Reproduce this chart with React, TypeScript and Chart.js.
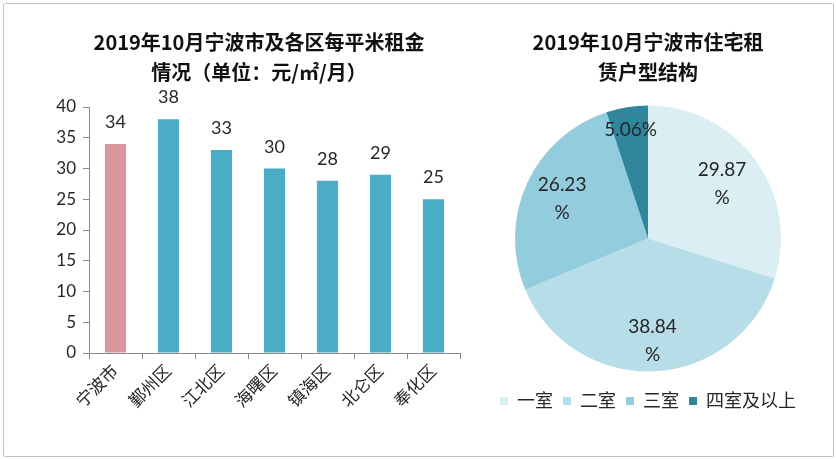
import React, { useEffect, useRef } from "react";
import { Chart, registerables } from "chart.js";

Chart.register(...registerables);

const barCategories = ["宁波市", "鄞州区", "江北区", "海曙区", "镇海区", "北仑区", "奉化区"];
const barValues = [34, 38, 33, 30, 28, 29, 25];
const barColors = ["#d9969b", "#4bacc6", "#4bacc6", "#4bacc6", "#4bacc6", "#4bacc6", "#4bacc6"];
const barTitle = ["2019年10月宁波市及各区每平米租金", "情况（单位：元/㎡/月）"];

const pieCategories = ["一室", "二室", "三室", "四室及以上"];
const pieValues = [29.87, 38.84, 26.23, 5.06];
const pieColors = ["#daeef3", "#b7dee8", "#93cddd", "#31859c"];
const pieTitle = ["2019年10月宁波市住宅租", "赁户型结构"];

const FONT = "Lato, 'Noto Sans CJK SC', sans-serif";
const TITLE_FONT = "'Noto Sans CJK SC', 'Noto Sans', sans-serif";
const TEXT = "#262626";
const AXIS = "#8a8a8a";

const barLabelPlugin = {
  id: "barLabels",
  afterDatasetsDraw(chart: any) {
    const ctx = chart.ctx;
    const meta = chart.getDatasetMeta(0);
    ctx.save();
    ctx.font = `18px ${FONT}`;
    ctx.fillStyle = TEXT;
    ctx.textAlign = "center";
    ctx.textBaseline = "alphabetic";
    meta.data.forEach((bar: any, i: number) => {
      ctx.fillText(String(barValues[i]), bar.x, bar.y - 16);
    });
    ctx.restore();
  },
};

const pieLabelFactors = [0.69, 0.77, 0.71, 0.83];
const pieLabelPlugin = {
  id: "pieLabels",
  afterDatasetsDraw(chart: any) {
    const ctx = chart.ctx;
    const meta = chart.getDatasetMeta(0);
    ctx.save();
    ctx.font = `19px ${FONT}`;
    ctx.fillStyle = TEXT;
    ctx.textAlign = "center";
    ctx.textBaseline = "middle";
    meta.data.forEach((arc: any, i: number) => {
      const { x, y, startAngle, endAngle, outerRadius } = arc.getProps(
        ["x", "y", "startAngle", "endAngle", "outerRadius"],
        true
      );
      const mid = (startAngle + endAngle) / 2;
      const r = outerRadius * pieLabelFactors[i];
      const cx = x + Math.cos(mid) * r;
      const cy = y + Math.sin(mid) * r;
      const v = pieValues[i].toFixed(2);
      const lines = pieValues[i] >= 10 ? [v, "%"] : [v + "%"];
      const lh = 28;
      lines.forEach((t, k) => {
        ctx.fillText(t, cx, cy + (k - (lines.length - 1) / 2) * lh);
      });
    });
    ctx.restore();
  },
};

function BarChart() {
  const ref = useRef<HTMLCanvasElement>(null);
  useEffect(() => {
    const chart = new Chart(ref.current as HTMLCanvasElement, {
      type: "bar",
      data: {
        labels: barCategories,
        datasets: [
          {
            data: barValues,
            backgroundColor: barColors,
            categoryPercentage: 1,
            barPercentage: 0.4,
          },
        ],
      },
      options: {
        animation: false,
        responsive: false,
        maintainAspectRatio: false,
        layout: { padding: { top: 0, left: 0, right: 0, bottom: 46 } },
        plugins: {
          legend: { display: false },
          tooltip: { enabled: false },
          title: {
            display: true,
            text: barTitle,
            color: "#111",
            font: { family: TITLE_FONT, size: 20, weight: "bold", lineHeight: 1.5 },
            padding: { top: 27, bottom: 20 },
          },
        },
        scales: {
          x: {
            grid: { offset: true, drawOnChartArea: false, tickLength: 6, color: AXIS },
            border: { color: AXIS },
            ticks: {
              color: TEXT,
              font: { family: FONT, size: 17 },
              minRotation: 45,
              maxRotation: 45,
              padding: 2,
              autoSkip: false,
            },
            afterFit: (s: any) => {
              s.height = 60;
            },
          },
          y: {
            min: 0,
            max: 40,
            grid: { drawOnChartArea: false, tickLength: 6, color: AXIS },
            border: { color: AXIS },
            ticks: {
              stepSize: 5,
              color: TEXT,
              font: { family: FONT, size: 17 },
              padding: 7,
            },
            afterFit: (s: any) => {
              s.width = 51;
            },
          },
          y2: {
            position: "right",
            min: 0,
            max: 1,
            grid: { display: false },
            border: { display: false },
            ticks: { display: false },
            afterFit: (s: any) => {
              s.width = 20;
            },
          },
        },
      },
      plugins: [barLabelPlugin],
    } as any);
    return () => chart.destroy();
  }, []);
  return (
    <canvas
      ref={ref}
      width={442}
      height={459}
      style={{ position: "absolute", left: 38, top: 0, width: 442, height: 459 }}
    />
  );
}

function PieChart() {
  const ref = useRef<HTMLCanvasElement>(null);
  useEffect(() => {
    const chart = new Chart(ref.current as HTMLCanvasElement, {
      type: "pie",
      data: {
        labels: pieCategories,
        datasets: [
          {
            data: pieValues,
            backgroundColor: pieColors,
            borderWidth: 0,
          },
        ],
      },
      options: {
        animation: false,
        responsive: false,
        maintainAspectRatio: false,
        radius: 133,
        layout: { padding: { top: 0, left: 0, right: 0, bottom: 39 } },
        plugins: {
          tooltip: { enabled: false },
          title: {
            display: true,
            text: pieTitle,
            color: "#111",
            font: { family: TITLE_FONT, size: 20, weight: "bold", lineHeight: 1.5 },
            padding: { top: 27, bottom: 8 },
          },
          legend: {
            position: "bottom",
            labels: {
              boxWidth: 8,
              boxHeight: 8,
              padding: 10,
              color: TEXT,
              font: { family: FONT, size: 18 },
            },
          },
        },
      },
      plugins: [pieLabelPlugin],
    } as any);
    return () => chart.destroy();
  }, []);
  return (
    <canvas
      ref={ref}
      width={332}
      height={459}
      style={{ position: "absolute", left: 482, top: 0, width: 332, height: 459 }}
    />
  );
}

export default function App() {
  useEffect(() => {
    document.body.style.margin = "0";
  }, []);
  return (
    <div style={{ position: "absolute", left: 0, top: 0, width: 836, height: 459, background: "#fff", overflow: "hidden" }}>
      <div
        style={{
          position: "absolute",
          left: 3,
          top: 3,
          width: 829,
          height: 452,
          border: "1px solid #c4c4c4",
          borderRadius: 2,
        }}
      />
      <BarChart />
      <PieChart />
    </div>
  );
}
